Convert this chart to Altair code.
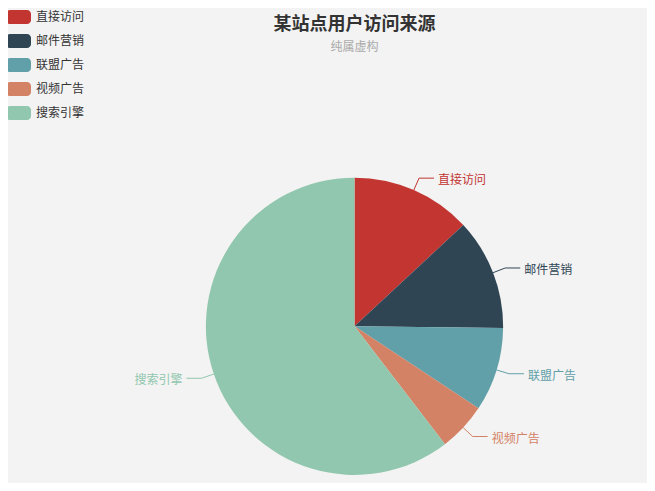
import altair as alt
import pandas as pd

names = ["直接访问", "邮件营销", "联盟广告", "视频广告", "搜索引擎"]
values = [335, 310, 234, 135, 1548]
colors = ["#c23531", "#2f4554", "#61a0a8", "#d48265", "#91c7ae"]

df = pd.DataFrame({"name": names, "value": values, "idx": list(range(len(names)))})

FONT = "Noto Sans CJK SC"
W, H = 639, 425
TOP = 50
CX, CY, R = 346.5, 268.3, 148.6
L1, L2, GAP = 13, 15, 4

PATH = ("M-0.68,-0.56 H0.68 A0.32,0.32 0 0 1 1,-0.24 V0.24 "
        "A0.32,0.32 0 0 1 0.68,0.56 H-0.68 A0.32,0.32 0 0 1 -1,0.24 "
        "V-0.24 A0.32,0.32 0 0 1 -0.68,-0.56 Z")

base = alt.Chart(df).transform_joinaggregate(
    total="sum(value)"
).transform_window(
    cum="sum(value)", sort=[alt.SortField("idx")], frame=[None, 0]
).transform_calculate(
    mid=f"(datum.cum - datum.value/2)/datum.total*2*PI",
).transform_calculate(
    s="sin(datum.mid)", c="cos(datum.mid)"
).transform_calculate(
    x0=f"{CX} + {R}*datum.s", y0=f"{CY} - {R}*datum.c",
    x1=f"{CX} + {R + L1}*datum.s", y1=f"{CY} - {R + L1}*datum.c",
).transform_calculate(
    x2=f"datum.x1 + (datum.s >= 0 ? {L2} : -{L2})",
).transform_calculate(
    xt=f"datum.x2 + (datum.s >= 0 ? {GAP} : -{GAP})",
)

xs = alt.Scale(domain=[0, W], range=[0, W])
ys = alt.Scale(domain=[0, H], range=[0, H])
cscale = alt.Scale(domain=names, range=colors)

arc = base.mark_arc(outerRadius=R).encode(
    theta=alt.Theta("value:Q", stack=True),
    order=alt.Order("idx:Q"),
    x=alt.value(CX),
    y=alt.value(CY),
    color=alt.Color(
        "name:N", scale=cscale,
        legend=alt.Legend(
            title=None, orient="none", legendX=-2, legendY=-TOP - 3.5,
            symbolType=PATH, symbolSize=625, symbolStrokeWidth=0,
            symbolOpacity=1, labelFont=FONT, labelFontSize=12,
            labelColor="#333", rowPadding=4, labelOffset=5, padding=0,
        ),
    ),
)

rule1 = base.mark_rule(strokeWidth=1).encode(
    x=alt.X("x0:Q", scale=xs, axis=None),
    y=alt.Y("y0:Q", scale=ys, axis=None),
    x2="x1:Q", y2="y1:Q",
    stroke=alt.Stroke("name:N", scale=cscale, legend=None),
)
rule2 = base.mark_rule(strokeWidth=1).encode(
    x=alt.X("x1:Q", scale=xs, axis=None),
    y=alt.Y("y1:Q", scale=ys, axis=None),
    x2="x2:Q", y2="y1:Q",
    stroke=alt.Stroke("name:N", scale=cscale, legend=None),
)

text_r = base.transform_filter("datum.s >= 0").mark_text(
    align="left", baseline="middle", font=FONT, fontSize=12, dy=2
).encode(
    x=alt.X("xt:Q", scale=xs, axis=None),
    y=alt.Y("y1:Q", scale=ys, axis=None),
    text="name:N",
    fill=alt.Fill("name:N", scale=cscale, legend=None),
)
text_l = base.transform_filter("datum.s < 0").mark_text(
    align="right", baseline="middle", font=FONT, fontSize=12, dy=2
).encode(
    x=alt.X("xt:Q", scale=xs, axis=None),
    y=alt.Y("y1:Q", scale=ys, axis=None),
    text="name:N",
    fill=alt.Fill("name:N", scale=cscale, legend=None),
)

chart = alt.layer(arc, rule1, rule2, text_r, text_l).properties(
    width=W, height=H,
    padding={"left": 0, "top": TOP, "right": 0, "bottom": 0},
    autosize=alt.AutoSizeParams(type="none"),
    background="#f3f3f3",
    title=alt.TitleParams(
        text="某站点用户访问来源", subtitle="纯属虚构",
        anchor="middle", frame="group", dx=27,
        font=FONT, fontSize=18, fontWeight="bold", color="#333",
        subtitleFont=FONT, subtitleFontSize=12, subtitleColor="#aaa",
        subtitlePadding=8, offset=-48.5,
    ),
).configure_view(stroke=None)

chart.save("out.html", embed_options={"renderer": "svg", "actions": False})
